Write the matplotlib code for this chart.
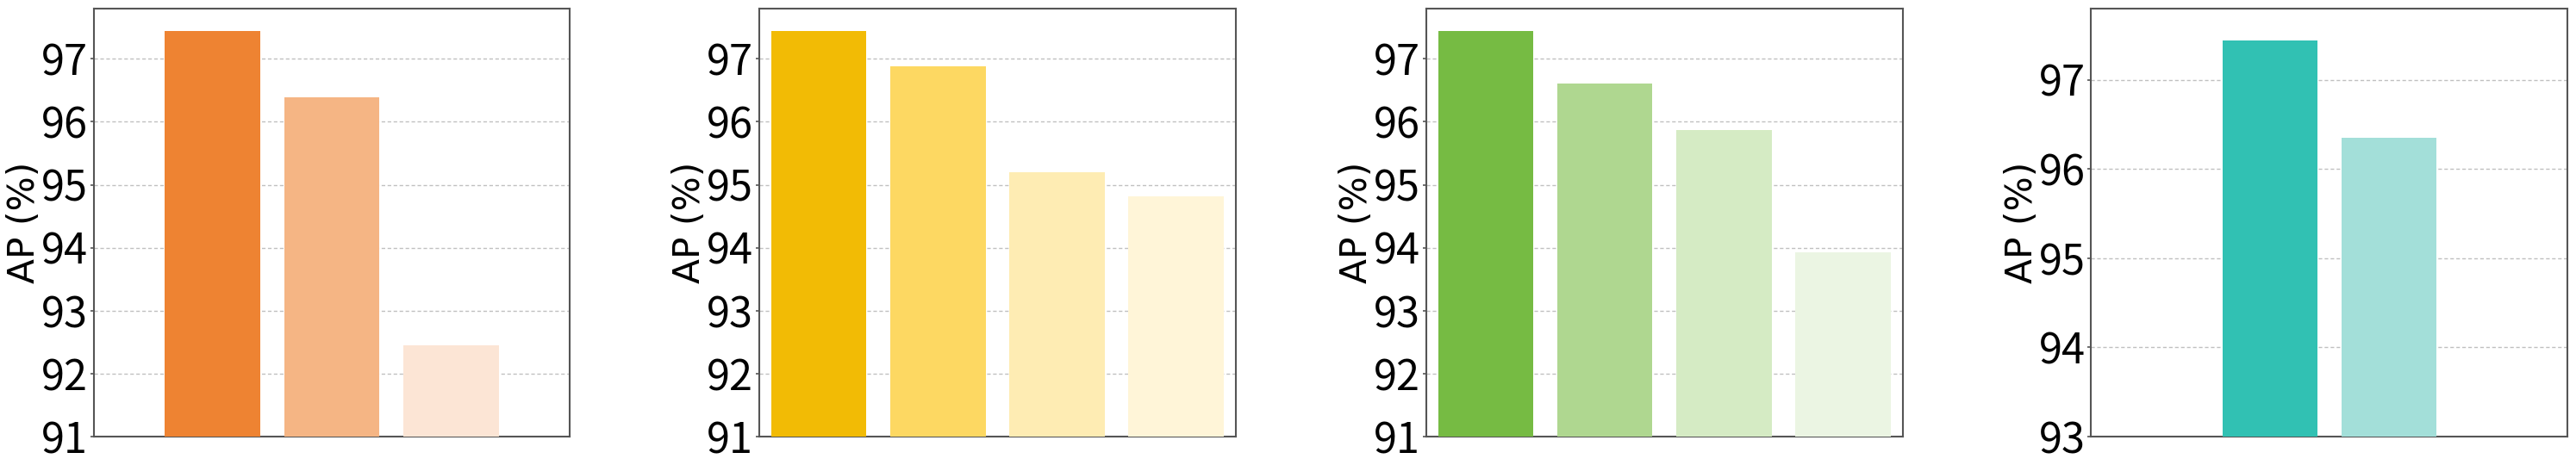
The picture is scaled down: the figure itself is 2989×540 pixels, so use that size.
import matplotlib
matplotlib.use("Agg")
import matplotlib.pyplot as plt
import numpy as np

plt.rcParams['font.family'] = ['DejaVu Sans']

# Data
vals1 = [97.44, 96.39, 92.45]
vals2 = [97.44, 96.88, 95.20, 94.82]
vals3 = [97.44, 96.61, 95.87, 93.92]
vals4 = [97.44, 96.35]

cols1 = ['#EE8332', '#F5B584', '#FCE5D5']
cols2 = ['#F2BB05', '#FDD862', '#FEECB3', '#FFF5D8']
cols3 = ['#76BB43', '#AFD790', '#D5EBC4', '#EBF5E3']
cols4 = ['#31C1B3', '#A3DFD9']

ylims = [(91, 97.8), (91, 97.8), (91, 97.8), (93, 97.8)]
yticks = [list(range(91, 98)), list(range(91, 98)), list(range(91, 98)), list(range(93, 98))]
offsets = [0.5, 0.0, 0.0, 1.0]

fig = plt.figure(figsize=(29.89, 5.4), dpi=100)
lefts = [0.0363, 0.2947, 0.5536, 0.8118]
w = 0.185
bottom = 0.061
height = 0.921

tick_family = ['Noto Sans CJK SC', 'DejaVu Sans']

for i, (vals, cols) in enumerate(zip([vals1, vals2, vals3, vals4], [cols1, cols2, cols3, cols4])):
    ax = fig.add_axes([lefts[i], bottom, w, height])
    x = np.arange(len(vals)) + offsets[i]
    ax.bar(x, vals, width=0.8, color=cols, zorder=3)
    ax.set_xlim(-0.5, 3.5)
    ax.set_ylim(*ylims[i])
    ax.set_yticks(yticks[i])
    ax.set_yticklabels([str(t) for t in yticks[i]], family=tick_family, fontsize=35)
    ax.set_xticks([])
    ax.tick_params(axis='y', length=3, width=1.2, color='#555555', pad=2)
    ax.set_ylabel('AP (%)', fontsize=30.5)
    ax.yaxis.set_label_coords(-0.108, 0.5)
    ax.grid(axis='y', linestyle=(0, (3, 2)), color='#c0c0c0', linewidth=1.0, zorder=0)
    for s in ax.spines.values():
        s.set_color('#555555')
        s.set_linewidth(1.5)

fig.savefig('out.png', dpi=100)
